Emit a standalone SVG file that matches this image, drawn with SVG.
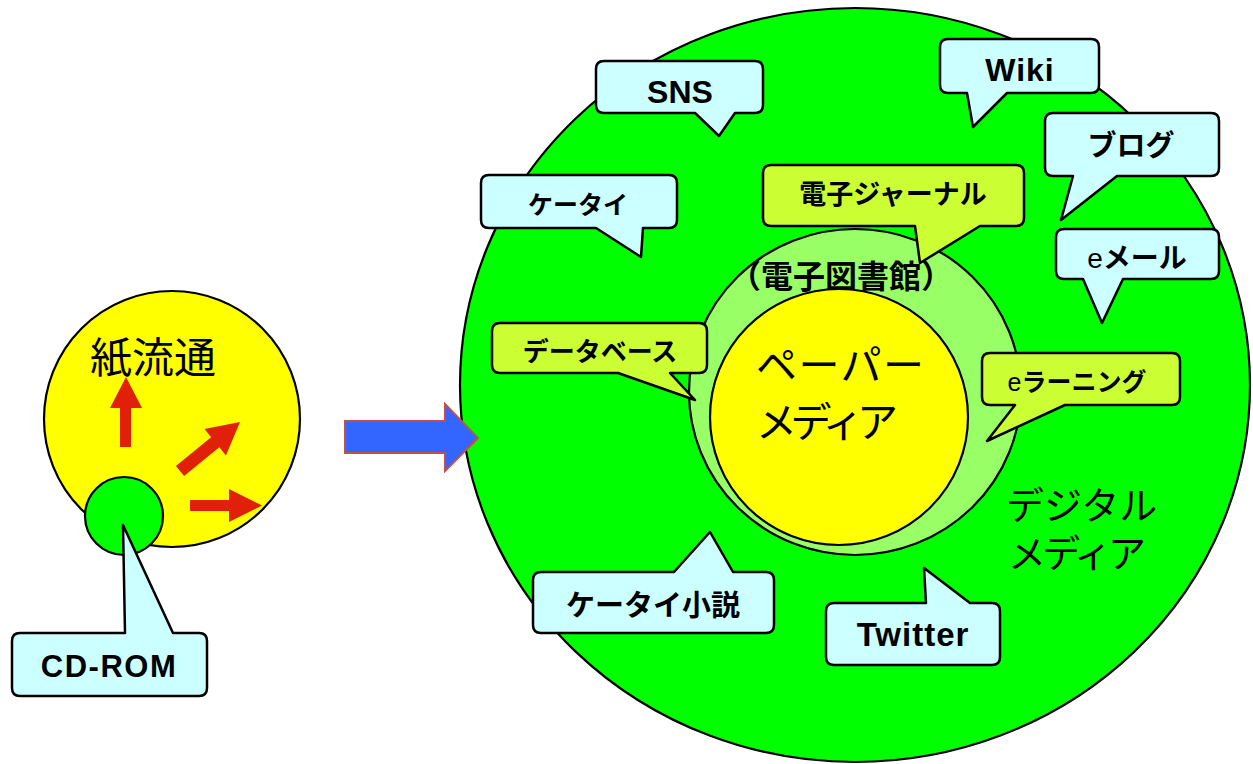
<svg xmlns="http://www.w3.org/2000/svg" width="1253" height="764" viewBox="0 0 1253 764">
<style>
.ln{stroke:#000;stroke-width:2.2}
.cy{fill:#CCFFFF;stroke:#000;stroke-width:2.5;stroke-linejoin:round}
.yg{fill:#CCFF33;stroke:#000;stroke-width:2.5;stroke-linejoin:round}
.red{fill:#E02008}
.t{font-family:"Liberation Sans","Noto Sans CJK JP",sans-serif;fill:#000}
.b{font-weight:bold}
.j{font-family:"Noto Sans CJK JP","Liberation Sans",sans-serif;fill:#000}
</style>
<rect width="1253" height="764" fill="#fff"/>

<g id="digital-media">
  <ellipse cx="855" cy="385" rx="395" ry="377" fill="#00FF00" class="ln"/>
  <text class="t" x="1006" y="519" font-size="38">デジタル</text>
  <text class="t" x="1008" y="567" font-size="38" textLength="138" lengthAdjust="spacing">メディア</text>
</g>

<g id="e-library">
  <ellipse cx="855" cy="392" rx="166" ry="163" fill="#99FF66" class="ln"/>
  <text class="j b" x="729" y="288" font-size="32">（電子図書館）</text>
</g>

<g id="paper-media">
  <ellipse cx="839" cy="417" rx="129" ry="128" fill="#FFFF00" class="ln"/>
  <text class="j" x="756" y="380" font-size="41" textLength="168" lengthAdjust="spacing">ペーパー</text>
  <text class="j" x="756" y="437" font-size="41" textLength="142" lengthAdjust="spacing">メディア</text>
</g>

<g id="paper-distribution">
  <circle cx="172" cy="419" r="128" fill="#FFFF00" class="ln"/>
  <text class="j" x="90" y="373" font-size="42">紙流通</text>
  <polygon class="red" points="120,447 131,447 131,408 142,408 126,377 110,408 120,408"/>
  <polygon class="red" points="175.9,466 211.1,437.2 204.5,429 240,422 225.9,455.4 219.3,447.2 184.1,476"/>
  <polygon class="red" points="190,500 229,500 229,489 262,505.5 229,522 229,511 190,511"/>
</g>

<g id="cdrom-disc">
  <circle cx="124" cy="516" r="39" fill="#00FF00" class="ln"/>
</g>

<g id="connectors">
  <polygon points="345,421 445,421 445,404 478,438 445,471 445,453 345,453" fill="#3366FF" stroke="#C0504D" stroke-width="2"/>
</g>

<g id="cd-rom">
  <path class="cy" d="M20,633 H125 L123,525 L173,633 H199 Q207,633 207,641 V688 Q207,696 199,696 H20 Q12,696 12,688 V641 Q12,633 20,633 Z"/>
  <text class="t b" x="109" y="677" font-size="31" text-anchor="middle" letter-spacing="1.5">CD-ROM</text>
</g>

<g id="sns">
  <path class="cy" d="M604,61 H755 Q763,61 763,69 V105 Q763,113 755,113 H735 L719,136 L695,113 H604 Q596,113 596,105 V69 Q596,61 604,61 Z"/>
  <text class="t b" x="680" y="103" font-size="32" text-anchor="middle">SNS</text>
</g>

<g id="keitai">
  <path class="cy" d="M489,175 H669 Q677,175 677,183 V220 Q677,228 669,228 H643 L641,257 L596,228 H489 Q481,228 481,220 V183 Q481,175 489,175 Z"/>
  <text class="j b" x="578" y="214" font-size="25" text-anchor="middle">ケータイ</text>
</g>

<g id="wiki">
  <path class="cy" d="M948,39 H1091 Q1099,39 1099,47 V85 Q1099,93 1091,93 H1007 L973,127 L967,93 H948 Q940,93 940,85 V47 Q940,39 948,39 Z"/>
  <text class="t b" x="1020" y="81" font-size="32" text-anchor="middle" letter-spacing="1">Wiki</text>
</g>

<g id="blog">
  <path class="cy" d="M1053,113 H1211 Q1219,113 1219,121 V168 Q1219,176 1211,176 H1117 L1061,220 L1073,176 H1053 Q1045,176 1045,168 V121 Q1045,113 1053,113 Z"/>
  <text class="j b" x="1131" y="156" font-size="29" text-anchor="middle">ブログ</text>
</g>

<g id="e-journal">
  <path class="yg" d="M771,165 H1016 Q1024,165 1024,173 V218 Q1024,226 1016,226 H980 L920,263 L915,226 H771 Q763,226 763,218 V173 Q763,165 771,165 Z"/>
  <text class="j b" x="893" y="204" font-size="27" text-anchor="middle">電子ジャーナル</text>
</g>

<g id="email">
  <path class="cy" d="M1064,229 H1211 Q1219,229 1219,237 V271 Q1219,279 1211,279 H1123 L1102,323 L1083,279 H1064 Q1056,279 1056,271 V237 Q1056,229 1064,229 Z"/>
  <text class="t" x="1137" y="268" font-size="28" text-anchor="middle">e<tspan class="b">メール</tspan></text>
</g>

<g id="database">
  <path class="yg" d="M500,323 H699 Q707,323 707,331 V365 Q707,373 699,373 H670 L695,400 L618,373 H500 Q492,373 492,365 V331 Q492,323 500,323 Z"/>
  <text class="j b" x="600" y="361" font-size="26" text-anchor="middle">データベース</text>
</g>

<g id="e-learning">
  <path class="yg" d="M990,353 H1172 Q1180,353 1180,361 V397 Q1180,405 1172,405 H1065 L987,441 L1015,405 H990 Q982,405 982,397 V361 Q982,353 990,353 Z"/>
  <text class="t" x="1077" y="391" font-size="25" text-anchor="middle">e<tspan class="b">ラーニング</tspan></text>
</g>

<g id="keitai-novel">
  <path class="cy" d="M541,572 H674 L710,532 L733,572 H766 Q774,572 774,580 V625 Q774,633 766,633 H541 Q533,633 533,625 V580 Q533,572 541,572 Z"/>
  <text class="j b" x="653" y="616" font-size="29" text-anchor="middle">ケータイ小説</text>
</g>

<g id="twitter">
  <path class="cy" d="M834,603 H926 L924,568 L970,603 H992 Q1000,603 1000,611 V657 Q1000,665 992,665 H834 Q826,665 826,657 V611 Q826,603 834,603 Z"/>
  <text class="t b" x="913" y="646" font-size="33" text-anchor="middle" letter-spacing="1">Twitter</text>
</g>
</svg>
